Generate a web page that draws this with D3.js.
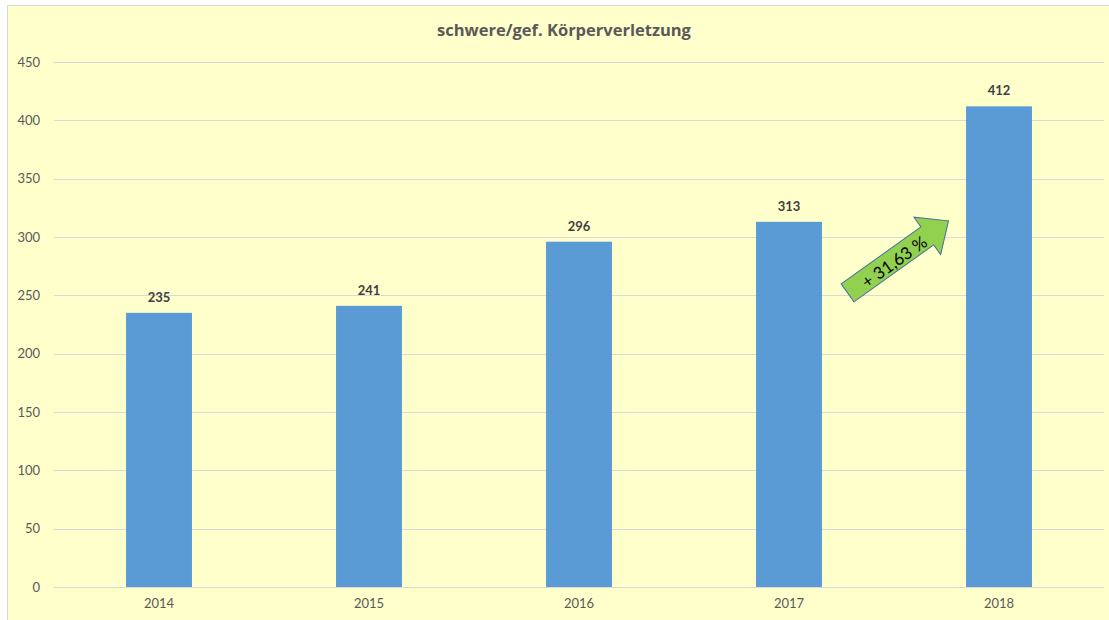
<!DOCTYPE html>
<html>
<head>
<meta charset="utf-8">
<script src="https://cdn.jsdelivr.net/npm/d3@7"></script>
<style>
  body { margin: 0; background: #fff; }
  svg { display: block; font-family: Lato, "Open Sans", sans-serif; }
</style>
</head>
<body>
<div id="chart"></div>
<script>
// data
const years = ["2014", "2015", "2016", "2017", "2018"];
const values = [235, 241, 296, 313, 412];
const yTicks = [0, 50, 100, 150, 200, 250, 300, 350, 400, 450];
const title = "schwere/gef. Körperverletzung";
const arrowLabel = "+ 31,63 %";

const width = 1109;
const height = 620;

const svg = d3.select("#chart").append("svg").attr("width", width).attr("height", height);

// chart background
svg.append("rect")
  .attr("x", 7.5).attr("y", 5.5)
  .attr("width", width).attr("height", height)
  .attr("fill", "#ffffcc")
  .attr("stroke", "#d9d9d9");

const x = d3.scaleBand().domain(years).range([54, 1104]).paddingInner(0.686).paddingOuter(0.343);
const y = d3.scaleLinear().domain([0, 450]).range([587, 62]);

// gridlines
svg.append("g")
  .selectAll("line")
  .data(yTicks.filter((d) => d > 0))
  .enter()
  .append("line")
  .attr("x1", 54).attr("x2", 1104)
  .attr("y1", (d) => Math.round(y(d)) + 0.5)
  .attr("y2", (d) => Math.round(y(d)) + 0.5)
  .attr("stroke", "#d9d9d9")
  .attr("stroke-width", 1);

// bars
svg.append("g")
  .selectAll("rect")
  .data(values)
  .enter()
  .append("rect")
  .attr("x", (d, i) => x(years[i]))
  .attr("y", (d) => y(d))
  .attr("width", x.bandwidth())
  .attr("height", (d) => y(0) - y(d))
  .attr("fill", "#5b9bd5");

// x axis line
svg.append("line")
  .attr("x1", 54).attr("x2", 1104)
  .attr("y1", y(0) + 0.5).attr("y2", y(0) + 0.5)
  .attr("stroke", "#d9d9d9");

// y axis labels
const yAxis = d3.axisLeft(y).tickValues(yTicks).tickSize(0).tickPadding(0);
const yAxisG = svg.append("g").attr("transform", "translate(40,0)").call(yAxis);
yAxisG.select(".domain").remove();
yAxisG.selectAll("text").attr("fill", "#595959").style("font-size", "13px").style("font-family", "Lato, sans-serif");

// x axis labels
const xAxis = d3.axisBottom(x).tickSize(0).tickPadding(0);
const xAxisG = svg.append("g").attr("transform", `translate(0,${y(0) + 12})`).call(xAxis);
xAxisG.select(".domain").remove();
xAxisG.selectAll("text").attr("fill", "#595959").style("font-size", "13px").style("font-family", "Lato, sans-serif");

// value labels
svg.append("g")
  .selectAll("text")
  .data(values)
  .enter()
  .append("text")
  .attr("x", (d, i) => x(years[i]) + x.bandwidth() / 2)
  .attr("y", (d) => y(d) - 11)
  .attr("text-anchor", "middle")
  .attr("fill", "#404040")
  .style("font-size", "13px")
  .style("font-weight", "bold")
  .text((d) => d);

// title
svg.append("text")
  .attr("x", 564)
  .attr("y", 36)
  .attr("text-anchor", "middle")
  .attr("fill", "#595959")
  .style("font-family", "'Open Sans', sans-serif")
  .style("font-size", "16.5px")
  .style("font-weight", "bold")
  .text(title);

// growth arrow between 2017 and 2018
const ax = (x("2017") + x.bandwidth() + x("2018")) / 2 + 4;
const ay = y(283);
const arrow = svg.append("g").attr("transform", `translate(${ax},${ay}) rotate(-35.5)`);
const L = 124, sh = 11, hh = 23, hl = 26;
arrow.append("path")
  .attr("d", `M${-L / 2},${-sh} L${L / 2 - hl},${-sh} L${L / 2 - hl},${-hh} L${L / 2},0 L${L / 2 - hl},${hh} L${L / 2 - hl},${sh} L${-L / 2},${sh} Z`)
  .attr("fill", "#92d050")
  .attr("stroke", "#41719c")
  .attr("stroke-width", 1);
arrow.append("text")
  .attr("x", -6)
  .attr("y", 8)
  .attr("text-anchor", "middle")
  .attr("fill", "#000")
  .style("font-size", "17px")
  .text(arrowLabel);
</script>
</body>
</html>
